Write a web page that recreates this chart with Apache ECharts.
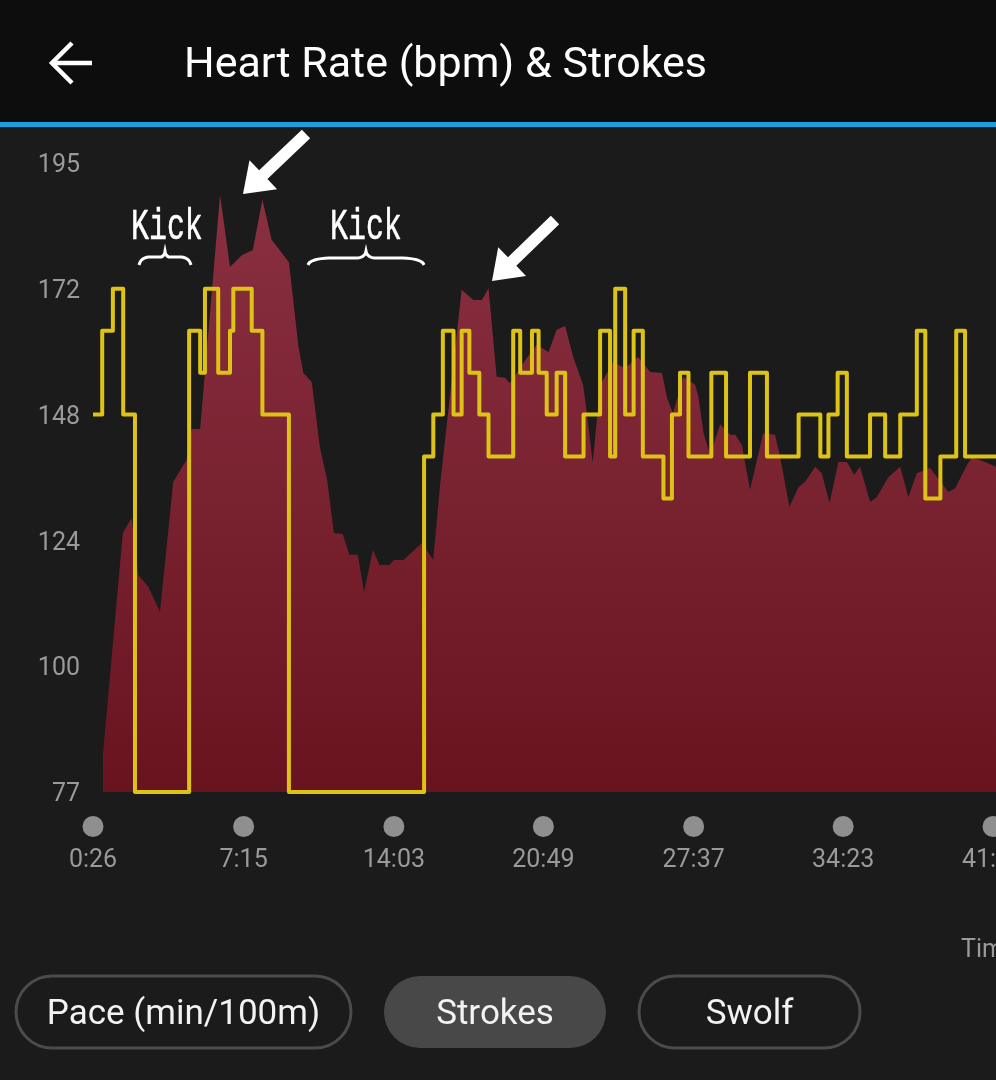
<!DOCTYPE html>
<html>
<head>
<meta charset="utf-8">
<script src="https://cdn.jsdelivr.net/npm/echarts@6/dist/echarts.min.js"></script>
<style>
  html, body { margin: 0; padding: 0; background: #1b1b1b; }
  #chart { width: 996px; height: 1080px; }
</style>
</head>
<body>
<div id="chart"></div>
<script>
// ---- data (time in seconds) ----
const hrTime = [53,107,131,149,176,208,244,280,294,317,371,398,430,460,486,511,558,584,597,620,642,662,680,704,722,745,762,786,804,831,843,869,919,950,968,1027,1059,1082,1100,1122,1145,1158,1204,1231,1263,1285,1308,1330,1357,1367,1383,1403,1438,1471,1506,1539,1571,1585,1601,1629,1661,1670,1684,1702,1729,1756,1770,1788,1810,1846,1878,1892,1917,1942,1960,1987,2005,2026,2050,2073,2093,2109,2136,2154,2186,2218,2240,2263,2299,2349,2367,2399,2412,2435,2478,2517];
const hrBpm  = [84,125.6,128.4,117.7,115.5,110.8,135.2,139.3,145.1,145.1,189,175.5,177.7,178.7,188.1,180.6,176.4,160.5,155.6,153.9,141.7,135.5,125.6,125.4,121.5,121.5,114.5,122.4,119.6,119.6,120.5,120.5,123.7,120.5,134.2,171.2,169.3,169.3,171.5,154.9,154.7,153.7,158.4,160.9,159.5,163.7,164.4,158.6,153.3,148.1,138.7,153.3,157.6,156.5,158.6,155.8,155.6,150.9,148,154.9,153.4,151.1,144.3,140.2,146,144,144,142.1,133.7,144.3,144,139.8,130.5,134.2,135.2,138,136.8,131.2,138.9,138.9,136.5,138,131.4,132.3,136.1,138,132.3,136.8,137.8,133.3,134,138.3,139.7,139.3,138,137.4];

const strokeTime  = [26,51,80,108,140,287,317,330,366,398,407,457,486,558,925,950,976,1005,1027,1048,1075,1100,1167,1186,1218,1236,1258,1285,1308,1358,1403,1430,1444,1471,1494,1519,1575,1598,1620,1643,1705,1745,1810,1856,1942,2001,2023,2048,2073,2136,2177,2218,2263,2286,2327,2370,2394,2516];
const strokeCount = [9,11,12,9,0,11,10,12,10,11,12,11,9,0,8,9,11,9,11,10,9,8,11,10,11,10,9,10,8,9,11,8,12,9,11,8,7,9,10,8,10,8,10,8,9,8,9,10,8,9,8,9,11,7,8,11,8,8];

const xTickValues = [26,435,843,1249,1657,2063,2470];
const xTickLabels = ['0:26','7:15','14:03','20:49','27:37','34:23','41:10'];
const yTickValues = [77,100.6,124.2,147.8,171.4,195];
const yTickLabels = ['77','100','124','148','172','195'];

const titleText = 'Heart Rate (bpm) & Strokes';
const buttonLabels = ['Pace (min/100m)','Strokes','Swolf'];
const annotationLabels = ['Kick','Kick'];
const xAxisName = 'Time';

// ---- build ----
const hrData = hrTime.map((t, i) => [t, hrBpm[i]]);
const strokeData = strokeTime.map((t, i) => [t, strokeCount[i]]);

function arrowPoly(tail, tip, sw, hw, hl) {
  const dx = tip[0]-tail[0], dy = tip[1]-tail[1];
  const L = Math.hypot(dx, dy), ux = dx/L, uy = dy/L, nx = -uy, ny = ux;
  const bx = tip[0]-ux*hl, by = tip[1]-uy*hl;
  return [
    [tail[0]+nx*sw/2, tail[1]+ny*sw/2],
    [bx+nx*sw/2, by+ny*sw/2],
    [bx+nx*hw/2, by+ny*hw/2],
    tip,
    [bx-nx*hw/2, by-ny*hw/2],
    [bx-nx*sw/2, by-ny*sw/2],
    [tail[0]-nx*sw/2, tail[1]-ny*sw/2]
  ];
}
// curly brace (tip upward) sampled as a polyline
function bracePoints(x0, x1, yEnd, yFlat, yTip) {
  const pts = [];
  const mid = (x0 + x1) / 2, w = x1 - x0;
  function quad(p0, c, p1) {
    for (let k = 0; k <= 10; k++) {
      const s = k / 10, a = (1-s)*(1-s), b = 2*(1-s)*s, d = s*s;
      pts.push([a*p0[0]+b*c[0]+d*p1[0], a*p0[1]+b*c[1]+d*p1[1]]);
    }
  }
  const e = w * 0.22, m = w * 0.09;
  quad([x0, yEnd], [x0 + 2, yFlat], [x0 + e, yFlat]);
  pts.push([mid - m, yFlat]);
  quad([mid - m, yFlat], [mid - 1, yFlat], [mid, yTip]);
  quad([mid, yTip], [mid + 1, yFlat], [mid + m, yFlat]);
  pts.push([x1 - e, yFlat]);
  quad([x1 - e, yFlat], [x1 - 2, yFlat], [x1, yEnd]);
  return pts;
}

const chart = echarts.init(document.getElementById('chart'), null, {renderer: 'canvas'});

const FONT = 'Roboto';
const KICK_FONT = '44px "Liberation Mono"';
const option = {
  backgroundColor: '#1b1b1b',
  animation: false,
  textStyle: { fontFamily: FONT },
  grid: { left: 93, right: 0, top: 163, bottom: 288, containLabel: false, outerBoundsMode: 'none' },
  xAxis: {
    type: 'value', min: 26, max: 2478,
    axisLine: { show: false }, axisTick: { show: false }, splitLine: { show: false },
    axisLabel: {
      customValues: xTickValues,
      margin: 24,
      hideOverlap: false,
      formatter: function (v) {
        const i = xTickValues.indexOf(v);
        return '{dot| }\n{t|' + (i >= 0 ? xTickLabels[i] : '') + '}';
      },
      rich: {
        dot: { width: 21, height: 21, borderRadius: 10.5, backgroundColor: '#8f8f8f', fontSize: 1, lineHeight: 21 },
        t: { fontSize: 25, color: '#9a9a9a', lineHeight: 48, fontFamily: FONT }
      }
    }
  },
  yAxis: [
    {
      type: 'value', min: 77, max: 195,
      axisLine: { show: false }, axisTick: { show: false }, splitLine: { show: false },
      axisLabel: {
        customValues: yTickValues,
        margin: 13,
        formatter: function (v) {
          const i = yTickValues.indexOf(v);
          return '{v|' + (i >= 0 ? yTickLabels[i] : '') + '}';
        },
        rich: {
          v: { fontSize: 25, color: '#9a9a9a', fontFamily: FONT, lineHeight: 30, padding: [6, 0, 0, 0] }
        }
      }
    },
    { type: 'value', min: 0, max: 15, show: false }
  ],
  series: [
    {
      type: 'line', name: 'Heart Rate', data: hrData, yAxisIndex: 0,
      symbol: 'none', smooth: false,
      lineStyle: { width: 0 },
      areaStyle: {
        opacity: 1,
        color: new echarts.graphic.LinearGradient(0, 0, 0, 1, [
          { offset: 0, color: '#8a3041' },
          { offset: 1, color: '#68141f' }
        ])
      },
      z: 2
    },
    {
      type: 'line', name: 'Strokes', data: strokeData, yAxisIndex: 1,
      step: 'end', symbol: 'none',
      lineStyle: { width: 4, color: '#dcc316', join: 'round' },
      z: 3
    }
  ],
  graphic: [
    { type: 'rect', shape: { x: 0, y: 0, width: 996, height: 122 }, style: { fill: '#0d0d0d' }, z: 50 },
    { type: 'rect', shape: { x: 0, y: 122, width: 996, height: 5 }, style: { fill: '#1ba0dd' }, z: 50 },
    { type: 'polyline', shape: { points: [[72, 43], [52, 63], [72, 83]] }, style: { stroke: '#ffffff', lineWidth: 4.5, fill: null }, z: 51 },
    { type: 'line', shape: { x1: 53, y1: 63, x2: 92, y2: 63 }, style: { stroke: '#ffffff', lineWidth: 4.5 }, z: 51 },
    { type: 'text', x: 184, y: 66, style: { text: titleText, fill: '#ffffff', font: '43px Roboto', textVerticalAlign: 'middle' }, z: 51 },

    // annotations
    { type: 'text', x: 131, y: 227, scaleX: 0.68, style: { text: annotationLabels[0], fill: '#ffffff', stroke: '#ffffff', lineWidth: 0.6, font: KICK_FONT, textVerticalAlign: 'middle' }, z: 60 },
    { type: 'text', x: 330, y: 227, scaleX: 0.68, style: { text: annotationLabels[1], fill: '#ffffff', stroke: '#ffffff', lineWidth: 0.6, font: KICK_FONT, textVerticalAlign: 'middle' }, z: 60 },
    { type: 'polyline', shape: { points: bracePoints(139, 191, 265, 257, 251) }, style: { stroke: '#ffffff', lineWidth: 3, fill: null }, z: 60 },
    { type: 'polyline', shape: { points: bracePoints(308, 424, 265, 258, 251) }, style: { stroke: '#ffffff', lineWidth: 3, fill: null }, z: 60 },
    { type: 'polygon', shape: { points: arrowPoly([306, 134], [243, 194], 12, 40, 28) }, style: { fill: '#ffffff' }, z: 60 },
    { type: 'polygon', shape: { points: arrowPoly([555, 220], [492, 281], 12, 40, 28) }, style: { fill: '#ffffff' }, z: 60 },

    // axis name (partly off-screen)
    { type: 'text', x: 961, y: 951, style: { text: xAxisName, fill: '#9a9a9a', font: '25px Roboto', textVerticalAlign: 'middle' }, z: 50 },

    // buttons
    { type: 'rect', shape: { x: 16, y: 976, width: 335, height: 72, r: 36 }, style: { fill: null, stroke: '#4b4b4b', lineWidth: 3 }, z: 50 },
    { type: 'text', x: 183.5, y: 1015, style: { text: buttonLabels[0], fill: '#f2f2f2', font: '35px Roboto', textAlign: 'center', textVerticalAlign: 'middle' }, z: 51 },
    { type: 'rect', shape: { x: 384, y: 976, width: 222, height: 72, r: 36 }, style: { fill: '#484848' }, z: 50 },
    { type: 'text', x: 495, y: 1015, style: { text: buttonLabels[1], fill: '#f2f2f2', font: '35px Roboto', textAlign: 'center', textVerticalAlign: 'middle' }, z: 51 },
    { type: 'rect', shape: { x: 639, y: 976, width: 221, height: 72, r: 36 }, style: { fill: null, stroke: '#4b4b4b', lineWidth: 3 }, z: 50 },
    { type: 'text', x: 749.5, y: 1015, style: { text: buttonLabels[2], fill: '#f2f2f2', font: '35px Roboto', textAlign: 'center', textVerticalAlign: 'middle' }, z: 51 }
  ]
};
chart.setOption(option);
</script>
</body>
</html>
